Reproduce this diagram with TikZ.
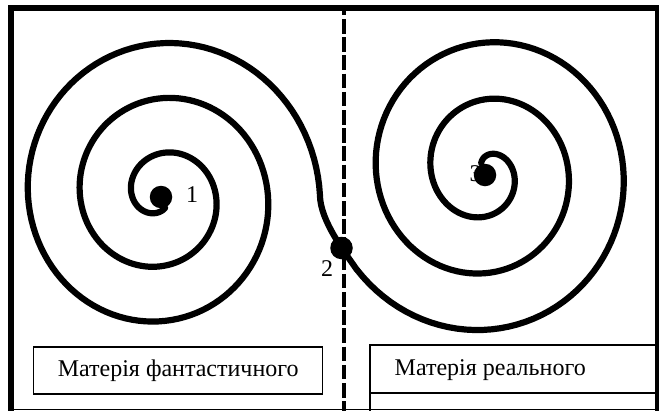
\documentclass[tikz,border=0pt]{standalone}
\usepackage{fontspec}
\setmainfont{Liberation Serif}
\begin{document}
\begin{tikzpicture}[x=1pt,y=-1pt,
  thickframe/.style={line width=6pt},
  thinframe/.style={line width=1.6pt},
  spiralline/.style={line width=6.2pt, line cap=round, line join=round},
  dotnode/.style={circle, fill=black, inner sep=0pt, minimum size=22.5pt},
  lbl/.style={inner sep=0pt, font=\fontsize{24}{28}\selectfont},
  boxnode/.style={draw, line width=1.4pt, inner sep=0pt, minimum width=289pt, minimum height=47pt, font=\fontsize{24}{28}\selectfont},
  divider/.style={line width=4.6pt, dash pattern=on 14.5pt off 3.7pt, dash phase=10.2pt}
]
\useasboundingbox (0,0) rectangle (659,410);
\fill[white] (0,0) rectangle (659,410);
% dashed divider
\coordinate (dtop) at (344,11);
\coordinate (dbot) at (344,412);
\draw[divider] (dtop) -- (dbot);
% frame
\coordinate (fl1) at (11,5);
\coordinate (fl2) at (11,412);
\coordinate (ft1) at (8,8);
\coordinate (ft2) at (662,8);
\coordinate (fr1) at (658,5);
\coordinate (fr2) at (658,412);
\coordinate (fb1) at (8,409.3);
\coordinate (fb2) at (662,409.3);
\draw[thickframe] (fl1) -- (fl2);
\draw[thickframe] (ft1) -- (ft2);
\draw[thickframe] (fr1) -- (fr2);
\draw[thinframe] (fb1) -- (fb2);
% boxes
\node[boxnode] (boxL) at (178.2,370.5) {Матерія фантастичного};
\coordinate (rb1) at (370,412);
\coordinate (rb2) at (370,345.3);
\coordinate (rb3) at (662,345.3);
\coordinate (rb4) at (370,393.3);
\coordinate (rb5) at (662,393.3);
\draw[line width=1.7pt] (rb1) -- (rb2) -- (rb3);
\draw[line width=1.7pt] (rb4) -- (rb5);
\node[lbl, anchor=west] (txtR) at (394.5,370.5) {Матерія реального};
% spiral
\coordinate (sL) at (320,196);
\coordinate (sR) at (357,270);
\draw[spiralline]
  plot[domain=0.2:3, samples=320, variable=\t]
    ({161+(52*\t+3)*cos(360*\t)}, {196+(55*\t+1.5)*sin(360*\t)})
  .. controls (320,221) and (345.8,253.4) .. (sR)
  -- plot[domain=0:2.75, samples=300, variable=\s]
    ({486-55*(2.9-\s)*cos(360*(2.9-\s))}, {172-(56.65*(2.9-\s)+2)*sin(360*(2.9-\s))});
% labels
\node[lbl] (l1) at (192,195) {1};
\node[lbl] (l2) at (327,268.5) {2};
\node[lbl] (l3) at (475.5,174) {3};
% dots
\node[dotnode] (d1) at (161,197) {};
\node[dotnode] (d2) at (341.5,248) {};
\node[dotnode] (d3) at (485,175) {};
\end{tikzpicture}
\end{document}
